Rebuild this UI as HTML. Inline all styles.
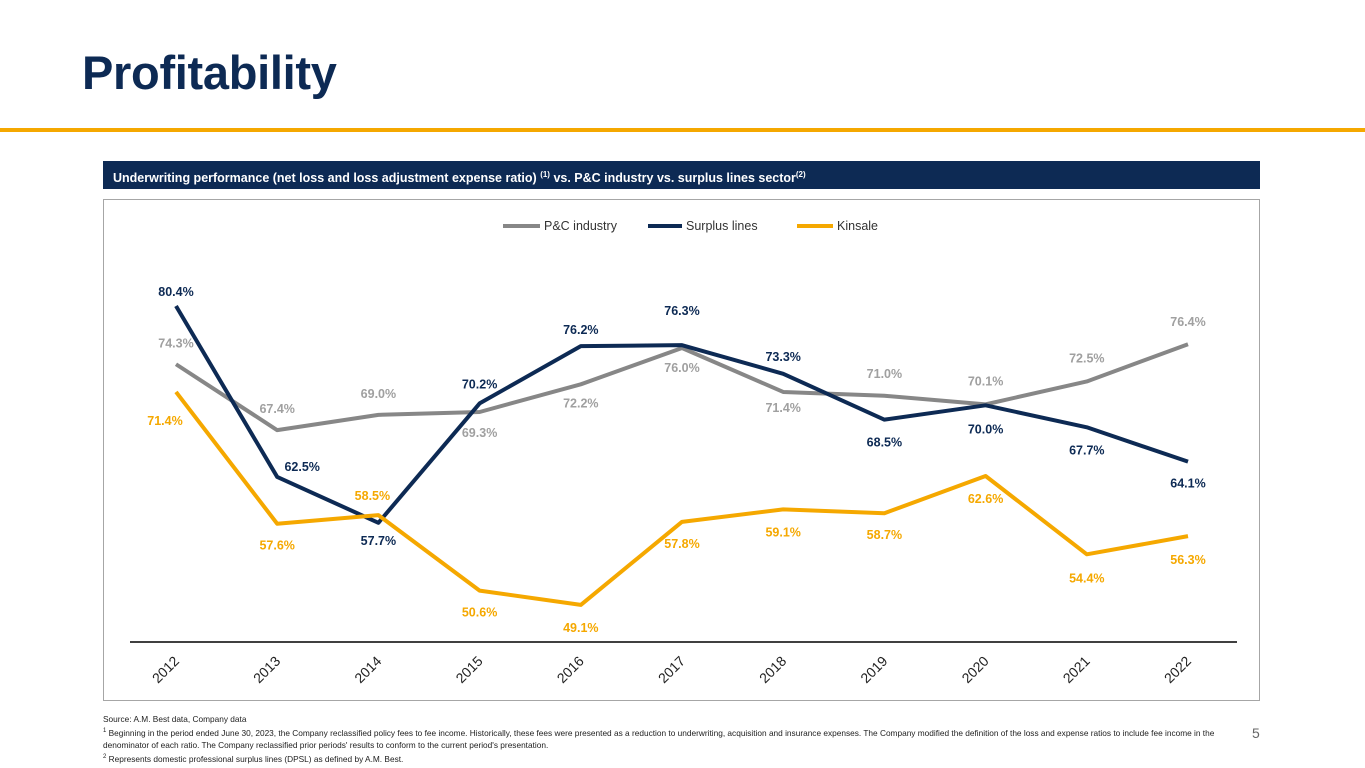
<!DOCTYPE html>
<html><head><meta charset="utf-8"><style>
body{margin:0;width:1365px;height:768px;background:#fff;position:relative;overflow:hidden;font-family:"Liberation Sans",Arial,sans-serif}
.abs{position:absolute}
</style></head><body>
<div class="abs" style="left:82px;top:45px;font-size:47px;color:#0d2a54;letter-spacing:-0.3px;font-weight:bold">Profitability</div>
<div class="abs" style="left:0;top:128px;width:1365px;height:4px;background:#f5a800"></div>
<div class="abs" style="left:103px;top:161px;width:1157px;height:28px;background:#0d2a54;color:#fff;font-weight:bold;font-size:12.5px;line-height:28px;padding-left:10px;box-sizing:border-box">Underwriting performance (net loss and loss adjustment expense ratio) <sup style="font-size:8px">(1)</sup> vs. P&amp;C industry vs. surplus lines sector<sup style="font-size:8px">(2)</sup></div>
<svg class="abs" style="left:0;top:0" width="1365" height="768" id="chart">
<rect x="103.5" y="199.5" width="1156" height="501" fill="none" stroke="#a6a6a6" stroke-width="1"/>
<line x1="130" y1="642" x2="1237" y2="642" stroke="#000" stroke-width="1.5"/>
<g font-size="12.5" fill="#333">
<g><line x1="503" y1="226" x2="540" y2="226" stroke="#878787" stroke-width="4"/><text x="544" y="230">P&amp;C industry</text></g>
<g><line x1="648" y1="226" x2="682" y2="226" stroke="#0d2a54" stroke-width="4"/><text x="686" y="230">Surplus lines</text></g>
<g><line x1="797" y1="226" x2="833" y2="226" stroke="#f5a800" stroke-width="4"/><text x="837" y="230">Kinsale</text></g>
</g>
</svg>
<div class="abs" style="left:103px;top:713px;font-size:8.3px;color:#222;line-height:12px;width:1140px">Source: A.M. Best data, Company data<br><sup style="font-size:6px">1</sup> Beginning in the period ended June 30, 2023, the Company reclassified policy fees to fee income. Historically, these fees were presented as a reduction to underwriting, acquisition and insurance expenses. The Company modified the definition of the loss and expense ratios to include fee income in the denominator of each ratio. The Company reclassified prior periods' results to conform to the current period's presentation.<br><sup style="font-size:6px">2</sup> Represents domestic professional surplus lines (DPSL) as defined by A.M. Best.</div>
<div class="abs" style="left:1252px;top:725px;font-size:14px;color:#666">5</div>
<script>
const years=["2012","2013","2014","2015","2016","2017","2018","2019","2020","2021","2022"];
const pcIndustry=[74.3,67.4,69.0,69.3,72.2,76.0,71.4,71.0,70.1,72.5,76.4];
const surplusLines=[80.4,62.5,57.7,70.2,76.2,76.3,73.3,68.5,70.0,67.7,64.1];
const kinsale=[71.4,57.6,58.5,50.6,49.1,57.8,59.1,58.7,62.6,54.4,56.3];
const pcDy=[-21,-21,-21,21,19,20,16,-22,-23,-23,-22];
const slDy=[-14,-10,18,-19,-16,-34,-17,23,24,23,22];
const slDx=[0,25,0,0,0,0,0,0,0,0,0];
const kDy=[29,22,-19,22,23,22,23,22,23,24,24];
const kDx=[-11,0,-6,0,0,0,0,0,0,0,0];
const svg=document.getElementById('chart');
const NS='http://www.w3.org/2000/svg';
const xS=i=>176+i*101.2;
const yS=v=>306+(80.4-v)*9.55;
function series(vals,color,name,dy,dx,lc){
  const p=document.createElementNS(NS,'polyline');
  p.setAttribute('points',vals.map((v,i)=>xS(i)+','+yS(v)).join(' '));
  p.setAttribute('fill','none');p.setAttribute('stroke',color);p.setAttribute('stroke-width','4');p.setAttribute('stroke-linejoin','round');
  
  
  svg.appendChild(p);
  vals.forEach((v,i)=>{
    const t=document.createElementNS(NS,'text');
    t.setAttribute('x',xS(i)+dx[i]);t.setAttribute('y',yS(v)+dy[i]+4);
    t.setAttribute('text-anchor','middle');t.setAttribute('font-size','12.5');t.setAttribute('font-weight','bold');t.setAttribute('fill',lc);
    t.textContent=v.toFixed(1)+'%';
    
    
    svg.appendChild(t);
  });
}
series(pcIndustry,'#878787','pc-industry',pcDy,new Array(11).fill(0),'#a0a0a0');
series(surplusLines,'#0d2a54','surplus-lines',slDy,slDx,'#0d2a54');
series(kinsale,'#f5a800','kinsale',kDy,kDx,'#f5a800');
years.forEach((y,i)=>{
  const t=document.createElementNS(NS,'text');
  const x=xS(i)-7,yy=673;
  t.setAttribute('x',x);t.setAttribute('y',yy);t.setAttribute('text-anchor','middle');
  t.setAttribute('font-size','14');t.setAttribute('fill','#222');
  t.setAttribute('transform','rotate(-45 '+x+' '+yy+')');
  t.textContent=y;
  
  
  svg.appendChild(t);
});
</script>
</body></html>
